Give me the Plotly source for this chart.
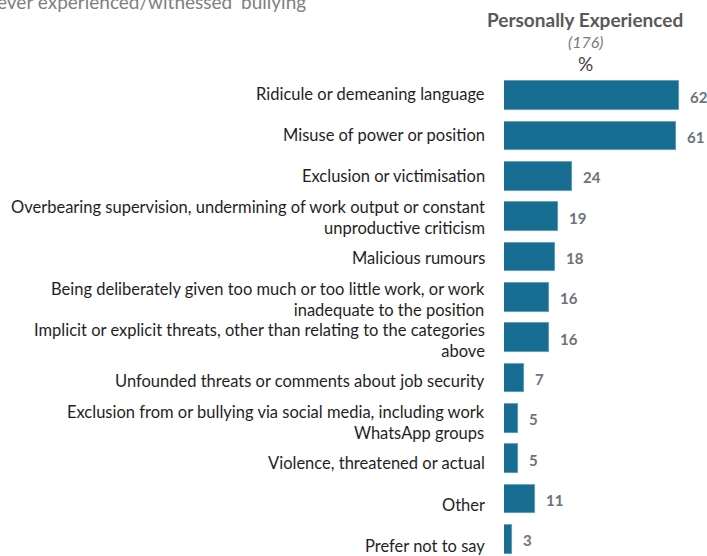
import plotly.graph_objects as go

categories = [
    "Ridicule or demeaning language",
    "Misuse of power or position",
    "Exclusion or victimisation",
    "Overbearing supervision, undermining of work output or constant<br>unproductive criticism",
    "Malicious rumours",
    "Being deliberately given too much or too little work, or work<br>inadequate to the position",
    "Implicit or explicit threats, other than relating to the categories<br>above",
    "Unfounded threats or comments about job security",
    "Exclusion from or bullying via social media, including work<br>WhatsApp groups",
    "Violence, threatened or actual",
    "Other",
    "Prefer not to say",
]
values = [62, 61, 24, 19, 18, 16, 16, 7, 5, 5, 11, 3]

W, H = 707, 556
ML, MT = 504, 75
plot_w, plot_h = W - ML, H - MT
ROW = 40.35          # pixel pitch between bar rows
FIRST = 95.5         # pixel centre of the first bar
LABEL_ROW = 41.05    # pixel pitch between category labels
LABEL_FIRST = 94.0   # pixel centre of the first category label

BAR = "#176d91"
FONT = "Lato, Calibri, Carlito, sans-serif"

idx = list(range(len(categories)))

fig = go.Figure(
    go.Bar(
        x=values,
        y=idx,
        orientation="h",
        width=0.71,
        marker=dict(color=BAR, line=dict(color="#5a95b0", width=0.8)),
        hoverinfo="skip",
    )
)


def py(px):
    return 1 - (px - MT) / plot_h


def px_x(px):
    return (px - ML) / plot_w


annotations = []
# category labels, right-aligned to the left of the bars
for i, c in enumerate(categories):
    annotations.append(dict(
        x=px_x(487), xref="paper", y=py(LABEL_FIRST + i * LABEL_ROW), yref="paper",
        text=c, showarrow=False, xanchor="right", yanchor="middle",
        align="right",
        font=dict(family=FONT, size=16.5, color="#1f1f1f"),
    ))
# value labels at bar ends
for i, v in enumerate(values):
    annotations.append(dict(
        x=v, xref="x", y=i, yref="y", text=f"<b>{v}</b>", showarrow=False,
        xanchor="left", yanchor="middle", xshift=9, yshift=-1,
        font=dict(family=FONT, size=15, color="#6d737c"),
    ))

annotations += [
    dict(x=px_x(585), y=py(19), xref="paper", yref="paper",
         text="<b>Personally Experienced</b>", showarrow=False,
         xanchor="center", yanchor="middle",
         font=dict(family=FONT, size=19, color="#595959")),
    dict(x=px_x(585), y=py(41), xref="paper", yref="paper",
         text="<i>(176)</i>", showarrow=False, xanchor="center", yanchor="middle",
         font=dict(family=FONT, size=16, color="#7a7a7a")),
    dict(x=px_x(585), y=py(63), xref="paper", yref="paper",
         text="%", showarrow=False, xanchor="center", yanchor="middle",
         font=dict(family=FONT, size=19, color="#404040")),
    dict(x=px_x(-5), y=py(1), xref="paper", yref="paper",
         text="ever experienced/witnessed \u2018bullying\u2019", showarrow=False,
         xanchor="left", yanchor="middle",
         font=dict(family=FONT, size=19, color="#808080")),
]

y_top = (MT - FIRST) / ROW
y_bottom = (H - FIRST) / ROW

fig.update_layout(
    width=W, height=H,
    margin=dict(l=ML, r=0, t=MT, b=0, pad=0),
    paper_bgcolor="white", plot_bgcolor="white",
    showlegend=False,
    bargap=0,
    xaxis=dict(range=[0, plot_w / 2.82], visible=False, fixedrange=True),
    yaxis=dict(range=[y_bottom, y_top], visible=False, fixedrange=True),
    annotations=annotations,
)

fig.write_html("out.html", config={"displayModeBar": False})
